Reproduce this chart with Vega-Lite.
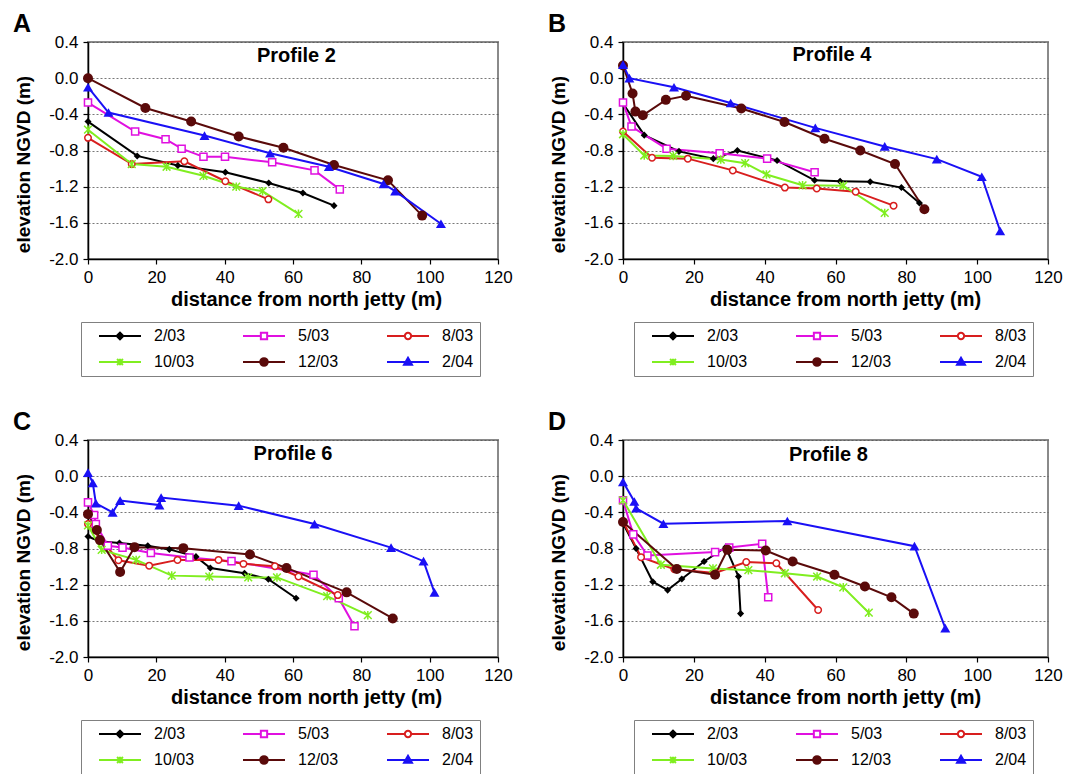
{
"$schema": "https://vega.github.io/schema/vega-lite/v6.json",
"background": "white",
"padding": {"left": 12, "top": 11, "right": 2, "bottom": 2},
"datasets": {
"p2": [
{"date":"2/03","dist":0,"elev":-0.48},{"date":"2/03","dist":14.4,"elev":-0.86},{"date":"2/03","dist":26.3,"elev":-0.965},{"date":"2/03","dist":40.2,"elev":-1.04},{"date":"2/03","dist":52.9,"elev":-1.16},{"date":"2/03","dist":62.9,"elev":-1.27},{"date":"2/03","dist":72.0,"elev":-1.41},
{"date":"5/03","dist":0,"elev":-0.27},{"date":"5/03","dist":13.8,"elev":-0.59},{"date":"5/03","dist":22.7,"elev":-0.675},{"date":"5/03","dist":27.4,"elev":-0.78},{"date":"5/03","dist":33.8,"elev":-0.87},{"date":"5/03","dist":40.1,"elev":-0.87},{"date":"5/03","dist":53.9,"elev":-0.93},{"date":"5/03","dist":66.3,"elev":-1.02},{"date":"5/03","dist":73.7,"elev":-1.23},
{"date":"8/03","dist":0,"elev":-0.66},{"date":"8/03","dist":12.8,"elev":-0.95},{"date":"8/03","dist":28.2,"elev":-0.92},{"date":"8/03","dist":40.2,"elev":-1.14},{"date":"8/03","dist":52.8,"elev":-1.34},
{"date":"10/03","dist":0,"elev":-0.57},{"date":"10/03","dist":12.8,"elev":-0.95},{"date":"10/03","dist":23.0,"elev":-0.98},{"date":"10/03","dist":33.8,"elev":-1.08},{"date":"10/03","dist":43.4,"elev":-1.2},{"date":"10/03","dist":51.1,"elev":-1.25},{"date":"10/03","dist":61.6,"elev":-1.5},
{"date":"12/03","dist":0,"elev":0.0},{"date":"12/03","dist":16.8,"elev":-0.33},{"date":"12/03","dist":30.2,"elev":-0.48},{"date":"12/03","dist":44.1,"elev":-0.645},{"date":"12/03","dist":57.2,"elev":-0.77},{"date":"12/03","dist":72.0,"elev":-0.96},{"date":"12/03","dist":87.8,"elev":-1.13},{"date":"12/03","dist":97.8,"elev":-1.52},
{"date":"2/04","dist":0,"elev":-0.1},{"date":"2/04","dist":6.0,"elev":-0.38},{"date":"2/04","dist":34.1,"elev":-0.635},{"date":"2/04","dist":53.3,"elev":-0.83},{"date":"2/04","dist":70.5,"elev":-0.98},{"date":"2/04","dist":86.5,"elev":-1.17},{"date":"2/04","dist":89.9,"elev":-1.25},{"date":"2/04","dist":103.3,"elev":-1.61}
],
"p4": [
{"date":"2/03","dist":0,"elev":-0.28},{"date":"2/03","dist":6.0,"elev":-0.63},{"date":"2/03","dist":15.8,"elev":-0.81},{"date":"2/03","dist":25.5,"elev":-0.89},{"date":"2/03","dist":32.3,"elev":-0.8},{"date":"2/03","dist":43.5,"elev":-0.91},{"date":"2/03","dist":54.1,"elev":-1.13},{"date":"2/03","dist":61.3,"elev":-1.14},{"date":"2/03","dist":69.8,"elev":-1.145},{"date":"2/03","dist":78.6,"elev":-1.21},{"date":"2/03","dist":83.7,"elev":-1.38},
{"date":"5/03","dist":0,"elev":-0.27},{"date":"5/03","dist":2.4,"elev":-0.535},{"date":"5/03","dist":12.3,"elev":-0.78},{"date":"5/03","dist":27.3,"elev":-0.83},{"date":"5/03","dist":40.7,"elev":-0.89},{"date":"5/03","dist":54.1,"elev":-1.04},
{"date":"8/03","dist":0,"elev":-0.59},{"date":"8/03","dist":8.2,"elev":-0.88},{"date":"8/03","dist":18.3,"elev":-0.89},{"date":"8/03","dist":31.0,"elev":-1.02},{"date":"8/03","dist":45.7,"elev":-1.21},{"date":"8/03","dist":54.7,"elev":-1.22},{"date":"8/03","dist":65.7,"elev":-1.255},{"date":"8/03","dist":76.4,"elev":-1.41},
{"date":"10/03","dist":0,"elev":-0.62},{"date":"10/03","dist":6.0,"elev":-0.855},{"date":"10/03","dist":14.2,"elev":-0.86},{"date":"10/03","dist":27.6,"elev":-0.9},{"date":"10/03","dist":34.5,"elev":-0.94},{"date":"10/03","dist":40.5,"elev":-1.065},{"date":"10/03","dist":50.7,"elev":-1.185},{"date":"10/03","dist":62.2,"elev":-1.19},{"date":"10/03","dist":73.9,"elev":-1.49},
{"date":"12/03","dist":0,"elev":0.14},{"date":"12/03","dist":2.7,"elev":-0.17},{"date":"12/03","dist":3.5,"elev":-0.37},{"date":"12/03","dist":5.6,"elev":-0.41},{"date":"12/03","dist":12.1,"elev":-0.24},{"date":"12/03","dist":17.8,"elev":-0.195},{"date":"12/03","dist":33.4,"elev":-0.335},{"date":"12/03","dist":45.6,"elev":-0.485},{"date":"12/03","dist":56.9,"elev":-0.67},{"date":"12/03","dist":67.0,"elev":-0.8},{"date":"12/03","dist":76.8,"elev":-0.95},{"date":"12/03","dist":85.1,"elev":-1.45},
{"date":"2/04","dist":0,"elev":0.15},{"date":"2/04","dist":1.8,"elev":0.0},{"date":"2/04","dist":14.4,"elev":-0.1},{"date":"2/04","dist":30.4,"elev":-0.275},{"date":"2/04","dist":54.3,"elev":-0.55},{"date":"2/04","dist":73.9,"elev":-0.755},{"date":"2/04","dist":88.6,"elev":-0.895},{"date":"2/04","dist":101.3,"elev":-1.09},{"date":"2/04","dist":106.5,"elev":-1.69}
],
"p6": [
{"date":"2/03","dist":0,"elev":-0.667},{"date":"2/03","dist":3.3,"elev":-0.72},{"date":"2/03","dist":9.2,"elev":-0.74},{"date":"2/03","dist":17.5,"elev":-0.77},{"date":"2/03","dist":23.8,"elev":-0.81},{"date":"2/03","dist":31.6,"elev":-0.89},{"date":"2/03","dist":35.8,"elev":-1.015},{"date":"2/03","dist":45.8,"elev":-1.074},{"date":"2/03","dist":52.8,"elev":-1.14},{"date":"2/03","dist":60.9,"elev":-1.35},
{"date":"5/03","dist":0,"elev":-0.29},{"date":"5/03","dist":1.8,"elev":-0.43},{"date":"5/03","dist":2.3,"elev":-0.53},{"date":"5/03","dist":5.8,"elev":-0.77},{"date":"5/03","dist":10.1,"elev":-0.79},{"date":"5/03","dist":18.4,"elev":-0.85},{"date":"5/03","dist":29.7,"elev":-0.9},{"date":"5/03","dist":42.0,"elev":-0.94},{"date":"5/03","dist":66.0,"elev":-1.09},{"date":"5/03","dist":73.4,"elev":-1.35},{"date":"5/03","dist":78.0,"elev":-1.66},
{"date":"8/03","dist":0,"elev":-0.53},{"date":"8/03","dist":8.9,"elev":-0.93},{"date":"8/03","dist":17.9,"elev":-0.99},{"date":"8/03","dist":26.2,"elev":-0.926},{"date":"8/03","dist":38.2,"elev":-0.926},{"date":"8/03","dist":45.5,"elev":-0.97},{"date":"8/03","dist":54.7,"elev":-0.996},{"date":"8/03","dist":61.6,"elev":-1.11},{"date":"8/03","dist":73.1,"elev":-1.315},
{"date":"10/03","dist":0,"elev":-0.545},{"date":"10/03","dist":4.0,"elev":-0.815},{"date":"10/03","dist":14.1,"elev":-0.926},{"date":"10/03","dist":24.5,"elev":-1.1},{"date":"10/03","dist":35.5,"elev":-1.11},{"date":"10/03","dist":46.9,"elev":-1.12},{"date":"10/03","dist":55.3,"elev":-1.12},{"date":"10/03","dist":70.0,"elev":-1.326},{"date":"10/03","dist":81.9,"elev":-1.537},
{"date":"12/03","dist":0,"elev":-0.42},{"date":"12/03","dist":2.6,"elev":-0.596},{"date":"12/03","dist":3.5,"elev":-0.707},{"date":"12/03","dist":9.4,"elev":-1.06},{"date":"12/03","dist":13.6,"elev":-0.785},{"date":"12/03","dist":27.9,"elev":-0.796},{"date":"12/03","dist":47.4,"elev":-0.867},{"date":"12/03","dist":58.1,"elev":-1.015},{"date":"12/03","dist":75.7,"elev":-1.285},{"date":"12/03","dist":89.2,"elev":-1.574},
{"date":"2/04","dist":0,"elev":0.04},{"date":"2/04","dist":1.4,"elev":-0.074},{"date":"2/04","dist":2.3,"elev":-0.3},{"date":"2/04","dist":7.2,"elev":-0.4},{"date":"2/04","dist":9.4,"elev":-0.27},{"date":"2/04","dist":20.9,"elev":-0.32},{"date":"2/04","dist":21.4,"elev":-0.237},{"date":"2/04","dist":44.1,"elev":-0.326},{"date":"2/04","dist":66.3,"elev":-0.53},{"date":"2/04","dist":88.7,"elev":-0.79},{"date":"2/04","dist":98.2,"elev":-0.94},{"date":"2/04","dist":101.4,"elev":-1.285}
],
"p8": [
{"date":"2/03","dist":0,"elev":-0.52},{"date":"2/03","dist":3.7,"elev":-0.8},{"date":"2/03","dist":8.4,"elev":-1.167},{"date":"2/03","dist":12.6,"elev":-1.26},{"date":"2/03","dist":16.6,"elev":-1.137},{"date":"2/03","dist":22.9,"elev":-0.944},{"date":"2/03","dist":29.0,"elev":-0.785},{"date":"2/03","dist":32.6,"elev":-1.11},{"date":"2/03","dist":33.2,"elev":-1.52},
{"date":"5/03","dist":0,"elev":-0.267},{"date":"5/03","dist":2.9,"elev":-0.644},{"date":"5/03","dist":6.9,"elev":-0.878},{"date":"5/03","dist":26.0,"elev":-0.84},{"date":"5/03","dist":30.0,"elev":-0.79},{"date":"5/03","dist":39.3,"elev":-0.748},{"date":"5/03","dist":41.0,"elev":-1.34},
{"date":"8/03","dist":0,"elev":-0.5},{"date":"8/03","dist":5.1,"elev":-0.896},{"date":"8/03","dist":14.5,"elev":-1.03},{"date":"8/03","dist":26.0,"elev":-1.07},{"date":"8/03","dist":34.8,"elev":-0.95},{"date":"8/03","dist":43.3,"elev":-0.963},{"date":"8/03","dist":55.1,"elev":-1.48},
{"date":"10/03","dist":0,"elev":-0.267},{"date":"10/03","dist":10.7,"elev":-0.98},{"date":"10/03","dist":25.4,"elev":-1.02},{"date":"10/03","dist":35.4,"elev":-1.04},{"date":"10/03","dist":45.7,"elev":-1.074},{"date":"10/03","dist":54.8,"elev":-1.11},{"date":"10/03","dist":62.2,"elev":-1.23},{"date":"10/03","dist":69.4,"elev":-1.51},
{"date":"12/03","dist":0,"elev":-0.507},{"date":"12/03","dist":15.2,"elev":-1.026},{"date":"12/03","dist":26.0,"elev":-1.09},{"date":"12/03","dist":29.5,"elev":-0.815},{"date":"12/03","dist":40.3,"elev":-0.822},{"date":"12/03","dist":47.9,"elev":-0.944},{"date":"12/03","dist":59.7,"elev":-1.09},{"date":"12/03","dist":68.3,"elev":-1.22},{"date":"12/03","dist":75.8,"elev":-1.34},{"date":"12/03","dist":82.1,"elev":-1.52},
{"date":"2/04","dist":0,"elev":-0.063},{"date":"2/04","dist":3.2,"elev":-0.28},{"date":"2/04","dist":3.7,"elev":-0.355},{"date":"2/04","dist":11.4,"elev":-0.526},{"date":"2/04","dist":46.4,"elev":-0.496},{"date":"2/04","dist":82.3,"elev":-0.774},{"date":"2/04","dist":91.0,"elev":-1.68}
]
},
"columns": 2,
"spacing": {"column": 33, "row": 31},
"resolve": {"scale": {"stroke": "independent", "fill": "independent", "shape": "independent"}, "legend": {"stroke": "independent", "fill": "independent", "shape": "independent"}},
"concat": [
{"width": 410, "height": 217, "title": "A", "data": {"name": "p2"},
 "layer": [
 {"encoding": {
  "x": {"field": "dist", "type": "quantitative", "scale": {"domain": [0, 120], "nice": false}, "axis": {"title": "distance from north jetty (m)", "values": [0,20,40,60,80,100,120], "tickCount": 12, "titleX": 218}},
  "y": {"field": "elev", "type": "quantitative", "scale": {"domain": [-2, 0.4], "nice": false, "zero": false}, "axis": {"title": "elevation NGVD (m)", "titleY": 122, "values": [-2,-1.6,-1.2,-0.8,-0.4,0,0.4], "tickCount": 12, "labelExpr": "(datum.value < -0.001 ? '-' : '') + format(abs(datum.value), '.1f')"}}
 },
 "layer": [
  {"mark": {"type": "point", "filled": true, "opacity": 0},
   "encoding": {
    "stroke": {"field": "date", "type": "nominal", "scale": {"domain": ["2/03","5/03","8/03","10/03","12/03","2/04"], "range": ["#000000","#e010e0","#d81e1e","#80ee20","#5a0a0a","#1a10f5"]}, "legend": {"title": " ", "orient": "none", "legendX": -7, "legendY": 280, "direction": "horizontal", "columns": 3, "symbolOpacity": 1}},
    "fill": {"field": "date", "type": "nominal", "scale": {"domain": ["2/03","5/03","8/03","10/03","12/03","2/04"], "range": ["#000000","#ffffff","#ffffff","#80ee20","#5a0a0a","#1a10f5"]}, "legend": {"title": " ", "orient": "none", "legendX": -7, "legendY": 280, "direction": "horizontal", "columns": 3, "symbolOpacity": 1}},
    "shape": {"field": "date", "type": "nominal", "scale": {"domain": ["2/03","5/03","8/03","10/03","12/03","2/04"], "range": ["M-1,0L1,0M-0.16,0L0,-0.16L0.16,0L0,0.16Z","M-1,0L-0.15,0M0.15,0L1,0M-0.15,-0.15L0.15,-0.15L0.15,0.15L-0.15,0.15Z","M-1,0L-0.15,0M0.15,0L1,0M-0.15,0A0.15,0.15,0,1,0,0.15,0A0.15,0.15,0,1,0,-0.15,0Z","M-1,0L1,0M-0.14,-0.14L0.14,0.14M-0.14,0.14L0.14,-0.14M0,-0.16L0,0.16","M-1,0L1,0M-0.18,0A0.18,0.18,0,1,0,0.18,0A0.18,0.18,0,1,0,-0.18,0Z","M-1,0L1,0M0,-0.2L0.19,0.13L-0.19,0.13Z"]}, "legend": {"title": " ", "orient": "none", "legendX": -7, "legendY": 280, "direction": "horizontal", "columns": 3, "symbolOpacity": 1}}
   }},
  {"mark": {"type": "line", "strokeWidth": 2},
   "encoding": {"stroke": {"field": "date", "type": "nominal", "scale": {"domain": ["2/03","5/03","8/03","10/03","12/03","2/04"], "range": ["#000000","#e010e0","#d81e1e","#80ee20","#5a0a0a","#1a10f5"]}}}},
  {"transform": [{"filter": "datum.date === '2/03'"}], "mark": {"type": "point", "shape": "diamond", "size": 50, "filled": true, "color": "#000000", "opacity": 1}},
  {"transform": [{"filter": "datum.date === '5/03'"}], "mark": {"type": "point", "shape": "square", "size": 50, "filled": true, "fill": "#ffffff", "stroke": "#e010e0", "strokeWidth": 1.5, "opacity": 1}},
  {"transform": [{"filter": "datum.date === '8/03'"}], "mark": {"type": "point", "shape": "circle", "size": 42, "filled": true, "fill": "#ffffff", "stroke": "#d81e1e", "strokeWidth": 1.5, "opacity": 1}},
  {"transform": [{"filter": "datum.date === '10/03'"}], "mark": {"type": "point", "shape": "M-1,-1L1,1M-1,1L1,-1M0,-1.1L0,1.1", "size": 60, "filled": false, "stroke": "#80ee20", "strokeWidth": 1.5, "opacity": 1}},
  {"transform": [{"filter": "datum.date === '12/03'"}], "mark": {"type": "point", "shape": "circle", "size": 100, "filled": true, "color": "#5a0a0a", "opacity": 1}},
  {"transform": [{"filter": "datum.date === '2/04'"}], "mark": {"type": "point", "shape": "triangle-up", "size": 100, "filled": true, "color": "#1a10f5", "opacity": 1}}
 ]},
 {"data": {"values": [{"lab": "Profile 2"}]}, "mark": {"type": "text", "fontSize": 20, "fontWeight": "bold", "font": "Liberation Sans", "baseline": "middle", "color": "black"},
  "encoding": {"x": {"datum": 61, "type": "quantitative"}, "y": {"datum": 0.24, "type": "quantitative"}, "text": {"field": "lab", "type": "nominal"}}}
 ]},
{"width": 425, "height": 217, "title": "B", "data": {"name": "p4"},
 "layer": [
 {"encoding": {
  "x": {"field": "dist", "type": "quantitative", "scale": {"domain": [0, 120], "nice": false}, "axis": {"title": "distance from north jetty (m)", "values": [0,20,40,60,80,100,120], "tickCount": 12, "titleX": 222}},
  "y": {"field": "elev", "type": "quantitative", "scale": {"domain": [-2, 0.4], "nice": false, "zero": false}, "axis": {"title": "elevation NGVD (m)", "titleY": 122, "values": [-2,-1.6,-1.2,-0.8,-0.4,0,0.4], "tickCount": 12, "labelExpr": "(datum.value < -0.001 ? '-' : '') + format(abs(datum.value), '.1f')"}}
 },
 "layer": [
  {"mark": {"type": "point", "filled": true, "opacity": 0},
   "encoding": {
    "stroke": {"field": "date", "type": "nominal", "scale": {"domain": ["2/03","5/03","8/03","10/03","12/03","2/04"], "range": ["#000000","#e010e0","#d81e1e","#80ee20","#5a0a0a","#1a10f5"]}, "legend": {"title": " ", "orient": "none", "legendX": 11, "legendY": 280, "direction": "horizontal", "columns": 3, "symbolOpacity": 1}},
    "fill": {"field": "date", "type": "nominal", "scale": {"domain": ["2/03","5/03","8/03","10/03","12/03","2/04"], "range": ["#000000","#ffffff","#ffffff","#80ee20","#5a0a0a","#1a10f5"]}, "legend": {"title": " ", "orient": "none", "legendX": 11, "legendY": 280, "direction": "horizontal", "columns": 3, "symbolOpacity": 1}},
    "shape": {"field": "date", "type": "nominal", "scale": {"domain": ["2/03","5/03","8/03","10/03","12/03","2/04"], "range": ["M-1,0L1,0M-0.16,0L0,-0.16L0.16,0L0,0.16Z","M-1,0L-0.15,0M0.15,0L1,0M-0.15,-0.15L0.15,-0.15L0.15,0.15L-0.15,0.15Z","M-1,0L-0.15,0M0.15,0L1,0M-0.15,0A0.15,0.15,0,1,0,0.15,0A0.15,0.15,0,1,0,-0.15,0Z","M-1,0L1,0M-0.14,-0.14L0.14,0.14M-0.14,0.14L0.14,-0.14M0,-0.16L0,0.16","M-1,0L1,0M-0.18,0A0.18,0.18,0,1,0,0.18,0A0.18,0.18,0,1,0,-0.18,0Z","M-1,0L1,0M0,-0.2L0.19,0.13L-0.19,0.13Z"]}, "legend": {"title": " ", "orient": "none", "legendX": 11, "legendY": 280, "direction": "horizontal", "columns": 3, "symbolOpacity": 1}}
   }},
  {"mark": {"type": "line", "strokeWidth": 2},
   "encoding": {"stroke": {"field": "date", "type": "nominal", "scale": {"domain": ["2/03","5/03","8/03","10/03","12/03","2/04"], "range": ["#000000","#e010e0","#d81e1e","#80ee20","#5a0a0a","#1a10f5"]}}}},
  {"transform": [{"filter": "datum.date === '2/03'"}], "mark": {"type": "point", "shape": "diamond", "size": 50, "filled": true, "color": "#000000", "opacity": 1}},
  {"transform": [{"filter": "datum.date === '5/03'"}], "mark": {"type": "point", "shape": "square", "size": 50, "filled": true, "fill": "#ffffff", "stroke": "#e010e0", "strokeWidth": 1.5, "opacity": 1}},
  {"transform": [{"filter": "datum.date === '8/03'"}], "mark": {"type": "point", "shape": "circle", "size": 42, "filled": true, "fill": "#ffffff", "stroke": "#d81e1e", "strokeWidth": 1.5, "opacity": 1}},
  {"transform": [{"filter": "datum.date === '10/03'"}], "mark": {"type": "point", "shape": "M-1,-1L1,1M-1,1L1,-1M0,-1.1L0,1.1", "size": 60, "filled": false, "stroke": "#80ee20", "strokeWidth": 1.5, "opacity": 1}},
  {"transform": [{"filter": "datum.date === '12/03'"}], "mark": {"type": "point", "shape": "circle", "size": 100, "filled": true, "color": "#5a0a0a", "opacity": 1}},
  {"transform": [{"filter": "datum.date === '2/04'"}], "mark": {"type": "point", "shape": "triangle-up", "size": 100, "filled": true, "color": "#1a10f5", "opacity": 1}}
 ]},
 {"data": {"values": [{"lab": "Profile 4"}]}, "mark": {"type": "text", "fontSize": 20, "fontWeight": "bold", "font": "Liberation Sans", "baseline": "middle", "color": "black"},
  "encoding": {"x": {"datum": 59, "type": "quantitative"}, "y": {"datum": 0.26, "type": "quantitative"}, "text": {"field": "lab", "type": "nominal"}}}
 ]},
{"width": 410, "height": 217, "title": "C", "data": {"name": "p6"},
 "layer": [
 {"encoding": {
  "x": {"field": "dist", "type": "quantitative", "scale": {"domain": [0, 120], "nice": false}, "axis": {"title": "distance from north jetty (m)", "values": [0,20,40,60,80,100,120], "tickCount": 12, "titleX": 218}},
  "y": {"field": "elev", "type": "quantitative", "scale": {"domain": [-2, 0.4], "nice": false, "zero": false}, "axis": {"title": "elevation NGVD (m)", "titleY": 122, "values": [-2,-1.6,-1.2,-0.8,-0.4,0,0.4], "tickCount": 12, "labelExpr": "(datum.value < -0.001 ? '-' : '') + format(abs(datum.value), '.1f')"}}
 },
 "layer": [
  {"mark": {"type": "point", "filled": true, "opacity": 0},
   "encoding": {
    "stroke": {"field": "date", "type": "nominal", "scale": {"domain": ["2/03","5/03","8/03","10/03","12/03","2/04"], "range": ["#000000","#e010e0","#d81e1e","#80ee20","#5a0a0a","#1a10f5"]}, "legend": {"title": " ", "orient": "none", "legendX": -7, "legendY": 280, "direction": "horizontal", "columns": 3, "symbolOpacity": 1}},
    "fill": {"field": "date", "type": "nominal", "scale": {"domain": ["2/03","5/03","8/03","10/03","12/03","2/04"], "range": ["#000000","#ffffff","#ffffff","#80ee20","#5a0a0a","#1a10f5"]}, "legend": {"title": " ", "orient": "none", "legendX": -7, "legendY": 280, "direction": "horizontal", "columns": 3, "symbolOpacity": 1}},
    "shape": {"field": "date", "type": "nominal", "scale": {"domain": ["2/03","5/03","8/03","10/03","12/03","2/04"], "range": ["M-1,0L1,0M-0.16,0L0,-0.16L0.16,0L0,0.16Z","M-1,0L-0.15,0M0.15,0L1,0M-0.15,-0.15L0.15,-0.15L0.15,0.15L-0.15,0.15Z","M-1,0L-0.15,0M0.15,0L1,0M-0.15,0A0.15,0.15,0,1,0,0.15,0A0.15,0.15,0,1,0,-0.15,0Z","M-1,0L1,0M-0.14,-0.14L0.14,0.14M-0.14,0.14L0.14,-0.14M0,-0.16L0,0.16","M-1,0L1,0M-0.18,0A0.18,0.18,0,1,0,0.18,0A0.18,0.18,0,1,0,-0.18,0Z","M-1,0L1,0M0,-0.2L0.19,0.13L-0.19,0.13Z"]}, "legend": {"title": " ", "orient": "none", "legendX": -7, "legendY": 280, "direction": "horizontal", "columns": 3, "symbolOpacity": 1}}
   }},
  {"mark": {"type": "line", "strokeWidth": 2},
   "encoding": {"stroke": {"field": "date", "type": "nominal", "scale": {"domain": ["2/03","5/03","8/03","10/03","12/03","2/04"], "range": ["#000000","#e010e0","#d81e1e","#80ee20","#5a0a0a","#1a10f5"]}}}},
  {"transform": [{"filter": "datum.date === '2/03'"}], "mark": {"type": "point", "shape": "diamond", "size": 50, "filled": true, "color": "#000000", "opacity": 1}},
  {"transform": [{"filter": "datum.date === '5/03'"}], "mark": {"type": "point", "shape": "square", "size": 50, "filled": true, "fill": "#ffffff", "stroke": "#e010e0", "strokeWidth": 1.5, "opacity": 1}},
  {"transform": [{"filter": "datum.date === '8/03'"}], "mark": {"type": "point", "shape": "circle", "size": 42, "filled": true, "fill": "#ffffff", "stroke": "#d81e1e", "strokeWidth": 1.5, "opacity": 1}},
  {"transform": [{"filter": "datum.date === '10/03'"}], "mark": {"type": "point", "shape": "M-1,-1L1,1M-1,1L1,-1M0,-1.1L0,1.1", "size": 60, "filled": false, "stroke": "#80ee20", "strokeWidth": 1.5, "opacity": 1}},
  {"transform": [{"filter": "datum.date === '12/03'"}], "mark": {"type": "point", "shape": "circle", "size": 100, "filled": true, "color": "#5a0a0a", "opacity": 1}},
  {"transform": [{"filter": "datum.date === '2/04'"}], "mark": {"type": "point", "shape": "triangle-up", "size": 100, "filled": true, "color": "#1a10f5", "opacity": 1}}
 ]},
 {"data": {"values": [{"lab": "Profile 6"}]}, "mark": {"type": "text", "fontSize": 20, "fontWeight": "bold", "font": "Liberation Sans", "baseline": "middle", "color": "black"},
  "encoding": {"x": {"datum": 60, "type": "quantitative"}, "y": {"datum": 0.25, "type": "quantitative"}, "text": {"field": "lab", "type": "nominal"}}}
 ]},
{"width": 425, "height": 217, "title": "D", "data": {"name": "p8"},
 "layer": [
 {"encoding": {
  "x": {"field": "dist", "type": "quantitative", "scale": {"domain": [0, 120], "nice": false}, "axis": {"title": "distance from north jetty (m)", "values": [0,20,40,60,80,100,120], "tickCount": 12, "titleX": 222}},
  "y": {"field": "elev", "type": "quantitative", "scale": {"domain": [-2, 0.4], "nice": false, "zero": false}, "axis": {"title": "elevation NGVD (m)", "titleY": 122, "values": [-2,-1.6,-1.2,-0.8,-0.4,0,0.4], "tickCount": 12, "labelExpr": "(datum.value < -0.001 ? '-' : '') + format(abs(datum.value), '.1f')"}}
 },
 "layer": [
  {"mark": {"type": "point", "filled": true, "opacity": 0},
   "encoding": {
    "stroke": {"field": "date", "type": "nominal", "scale": {"domain": ["2/03","5/03","8/03","10/03","12/03","2/04"], "range": ["#000000","#e010e0","#d81e1e","#80ee20","#5a0a0a","#1a10f5"]}, "legend": {"title": " ", "orient": "none", "legendX": 11, "legendY": 280, "direction": "horizontal", "columns": 3, "symbolOpacity": 1}},
    "fill": {"field": "date", "type": "nominal", "scale": {"domain": ["2/03","5/03","8/03","10/03","12/03","2/04"], "range": ["#000000","#ffffff","#ffffff","#80ee20","#5a0a0a","#1a10f5"]}, "legend": {"title": " ", "orient": "none", "legendX": 11, "legendY": 280, "direction": "horizontal", "columns": 3, "symbolOpacity": 1}},
    "shape": {"field": "date", "type": "nominal", "scale": {"domain": ["2/03","5/03","8/03","10/03","12/03","2/04"], "range": ["M-1,0L1,0M-0.16,0L0,-0.16L0.16,0L0,0.16Z","M-1,0L-0.15,0M0.15,0L1,0M-0.15,-0.15L0.15,-0.15L0.15,0.15L-0.15,0.15Z","M-1,0L-0.15,0M0.15,0L1,0M-0.15,0A0.15,0.15,0,1,0,0.15,0A0.15,0.15,0,1,0,-0.15,0Z","M-1,0L1,0M-0.14,-0.14L0.14,0.14M-0.14,0.14L0.14,-0.14M0,-0.16L0,0.16","M-1,0L1,0M-0.18,0A0.18,0.18,0,1,0,0.18,0A0.18,0.18,0,1,0,-0.18,0Z","M-1,0L1,0M0,-0.2L0.19,0.13L-0.19,0.13Z"]}, "legend": {"title": " ", "orient": "none", "legendX": 11, "legendY": 280, "direction": "horizontal", "columns": 3, "symbolOpacity": 1}}
   }},
  {"mark": {"type": "line", "strokeWidth": 2},
   "encoding": {"stroke": {"field": "date", "type": "nominal", "scale": {"domain": ["2/03","5/03","8/03","10/03","12/03","2/04"], "range": ["#000000","#e010e0","#d81e1e","#80ee20","#5a0a0a","#1a10f5"]}}}},
  {"transform": [{"filter": "datum.date === '2/03'"}], "mark": {"type": "point", "shape": "diamond", "size": 50, "filled": true, "color": "#000000", "opacity": 1}},
  {"transform": [{"filter": "datum.date === '5/03'"}], "mark": {"type": "point", "shape": "square", "size": 50, "filled": true, "fill": "#ffffff", "stroke": "#e010e0", "strokeWidth": 1.5, "opacity": 1}},
  {"transform": [{"filter": "datum.date === '8/03'"}], "mark": {"type": "point", "shape": "circle", "size": 42, "filled": true, "fill": "#ffffff", "stroke": "#d81e1e", "strokeWidth": 1.5, "opacity": 1}},
  {"transform": [{"filter": "datum.date === '10/03'"}], "mark": {"type": "point", "shape": "M-1,-1L1,1M-1,1L1,-1M0,-1.1L0,1.1", "size": 60, "filled": false, "stroke": "#80ee20", "strokeWidth": 1.5, "opacity": 1}},
  {"transform": [{"filter": "datum.date === '12/03'"}], "mark": {"type": "point", "shape": "circle", "size": 100, "filled": true, "color": "#5a0a0a", "opacity": 1}},
  {"transform": [{"filter": "datum.date === '2/04'"}], "mark": {"type": "point", "shape": "triangle-up", "size": 100, "filled": true, "color": "#1a10f5", "opacity": 1}}
 ]},
 {"data": {"values": [{"lab": "Profile 8"}]}, "mark": {"type": "text", "fontSize": 20, "fontWeight": "bold", "font": "Liberation Sans", "baseline": "middle", "color": "black"},
  "encoding": {"x": {"datum": 58, "type": "quantitative"}, "y": {"datum": 0.23, "type": "quantitative"}, "text": {"field": "lab", "type": "nominal"}}}
 ]}
],
"config": {
 "font": "Liberation Sans",
 "view": {"stroke": "#8a8a8a", "strokeWidth": 2},
 "title": {"fontSize": 25, "fontWeight": "bold", "anchor": "start", "frame": "group", "dx": -75, "offset": -4, "color": "black", "font": "Liberation Sans"},
 "axis": {"labelFont": "Liberation Sans", "labelFontSize": 17, "labelColor": "black", "titleFont": "Liberation Sans", "titleFontWeight": "bold", "titleColor": "black", "tickColor": "black", "domainColor": "black", "tickSize": 5, "domainWidth": 1.5, "tickWidth": 1.2, "labelOverlap": false},
 "axisX": {"titleFontSize": 20, "labelPadding": 5, "titlePadding": 4, "grid": false, "labelFlush": false},
 "axisY": {"titleFontSize": 19, "grid": true, "gridColor": "#555555", "gridDash": [2, 2], "gridWidth": 0.8, "labelPadding": 5, "titlePadding": 15},
 "legend": {"symbolSize": 1764, "symbolStrokeWidth": 2, "labelOffset": 12, "labelFontSize": 16, "labelFont": "Liberation Sans", "labelColor": "black", "columnPadding": 47, "rowPadding": 10, "gridAlign": "all", "padding": 6, "strokeColor": "#808080", "fillColor": "white", "clipHeight": 16, "titleOrient": "left", "titlePadding": 11, "titleFontSize": 16, "titleFont": "Liberation Sans"}
}
}
